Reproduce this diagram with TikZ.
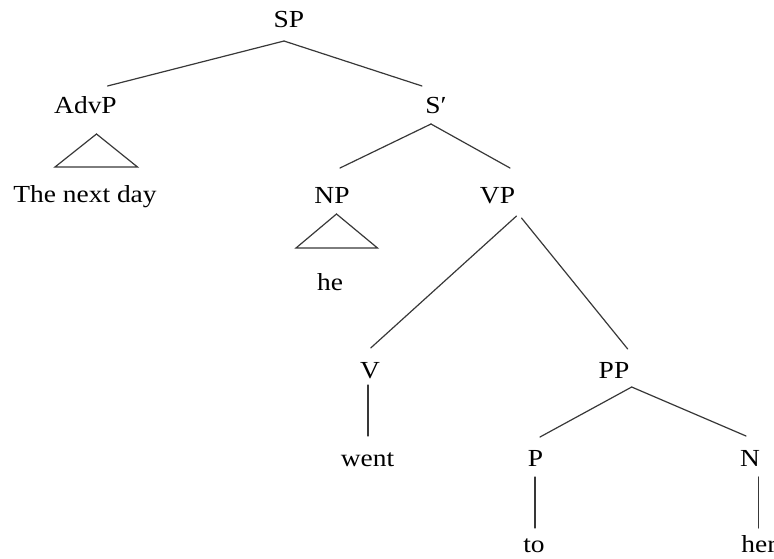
\documentclass[tikz,border=0pt]{standalone}
\usepackage{fontspec}
\setmainfont{Liberation Serif}[FakeStretch=1.12]
\usetikzlibrary{calc}
\begin{document}
\begin{tikzpicture}[x=1pt,y=-1pt,
  lab/.style={inner sep=0pt, anchor=base, font=\fontsize{24.5}{28}\selectfont},
  edge/.style={line width=1.2pt, draw=black!78, line cap=round}]
\useasboundingbox (0,0) rectangle (774,558);
% labels
\node[lab] (SP)   at (289,27)   {SP};
\node[lab] (AdvP) at (85.5,113) {AdvP};
\node[lab] (Sbar) at (436,113)  {S′};
\node[lab] (Tnd)  at (85,202)   {The next day};
\node[lab] (NP)   at (332,203)  {NP};
\node[lab] (VP)   at (497.5,203) {VP};
\node[lab] (he)   at (330,290)  {he};
\node[lab] (V)    at (370,378)  {V};
\node[lab] (PP)   at (614,378)  {PP};
\node[lab] (went) at (367.5,466) {went};
\node[lab] (P)    at (535.5,466) {P};
\node[lab] (N)    at (750,466)  {N};
\node[lab] (to)   at (534,552)  {to};
\node[lab] (her)  at (759,552)  {her};
% branches
\draw[edge] ($(SP.base)+(-5,14)$) -- ($(AdvP.base)+(22,-27)$);
\draw[edge] ($(SP.base)+(-5,14)$) -- ($(Sbar.base)+(-14,-27)$);
\draw[edge] ($(Sbar.base)+(-5,11)$) -- ($(NP.base)+(8,-35)$);
\draw[edge] ($(Sbar.base)+(-5,11)$) -- ($(VP.base)+(12.5,-35)$);
\draw[edge] ($(VP.base)+(19,13)$) -- ($(V.base)+(0.7,-30)$);
\draw[edge] ($(VP.base)+(24,15)$) -- ($(PP.base)+(13.7,-29)$);
\draw[edge] ($(V.base)+(-2,7)$) -- ($(went.base)+(0.5,-30)$);
\draw[edge] ($(PP.base)+(17.7,9)$) -- ($(P.base)+(4.5,-29)$);
\draw[edge] ($(PP.base)+(17.7,9)$) -- ($(N.base)+(-4,-30)$);
\draw[edge] ($(P.base)+(-0.5,11)$) -- ($(to.base)+(1,-24)$);
\draw[edge] ($(N.base)+(8.7,11)$) -- ($(her.base)+(-0.3,-24)$);
% triangles
\draw[edge, line join=miter] ($(AdvP.base)+(11,21)$) -- ($(AdvP.base)+(-30.5,54)$) -- ($(AdvP.base)+(52,54)$) -- cycle;
\draw[edge, line join=miter] ($(NP.base)+(4.5,11)$) -- ($(NP.base)+(-36,45)$) -- ($(NP.base)+(45.5,45)$) -- cycle;
\end{tikzpicture}
\end{document}
